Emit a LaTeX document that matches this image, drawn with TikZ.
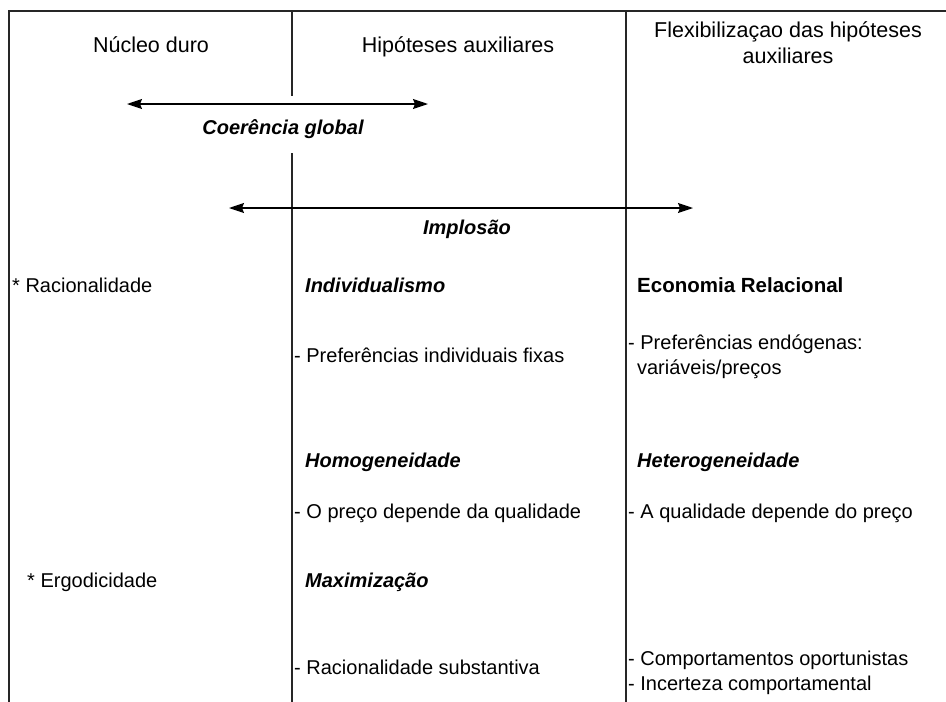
\documentclass[tikz,border=0pt]{standalone}
\usepackage{fontspec}
\setmainfont{Liberation Sans}
\usetikzlibrary{arrows.meta}
\begin{document}
\begin{tikzpicture}[x=1pt,y=-1pt,
  frame/.style={line width=1.2pt,black!85},
  hdr/.style={inner sep=0pt,font=\fontsize{21.5}{26}\selectfont,align=center},
  txt/.style={inner sep=0pt,anchor=base west,font=\fontsize{20}{25}\selectfont,align=left},
  bi/.style={inner sep=0pt,anchor=base west,font=\fontsize{20}{25}\selectfont\bfseries\itshape},
  bd/.style={inner sep=0pt,anchor=base west,font=\fontsize{20.5}{25}\selectfont\bfseries},
  lbl/.style={inner sep=0pt,anchor=base,font=\fontsize{20}{25}\selectfont\bfseries\itshape},
  dbl/.style={line width=1.3pt,{Stealth[length=15pt,width=10pt,inset=2pt]}-{Stealth[length=15pt,width=10pt,inset=2pt]}}]
\useasboundingbox (0,0) rectangle (946,702);
% frame
\coordinate (tl) at (9,11);
\coordinate (tr) at (946,11);
\coordinate (bl) at (9,702);
\coordinate (v1t) at (292,11);
\coordinate (v1a) at (292,96);
\coordinate (v1b) at (292,153);
\coordinate (v1e) at (292,702);
\coordinate (v2t) at (626,11);
\coordinate (v2e) at (626,702);
\draw[frame] (bl) -- (tl) -- (tr);
\draw[frame] (v1t) -- (v1a);
\draw[frame] (v1b) -- (v1e);
\draw[frame] (v2t) -- (v2e);
% headers
\node[hdr,anchor=base] (h1) at (151,52) {Núcleo duro};
\node[hdr,anchor=base] (h2) at (458,52) {Hipóteses auxiliares};
\node[hdr,anchor=base] (h3) at (788,63) {Flexibilizaçao das hipóteses\\auxiliares};
% arrows
\coordinate (c1) at (127,104);
\coordinate (c2) at (428,104);
\draw[dbl] (c1) -- (c2);
\node[lbl] (coer) at (283,134) {Coerência global};
\coordinate (i1) at (229,208);
\coordinate (i2) at (693,208);
\draw[dbl] (i1) -- (i2);
\node[lbl] (impl) at (467,234) {Implosão};
% column 1
\node[txt] (rac) at (12,292) {* Racionalidade};
\node[txt] (erg) at (27,587) {* Ergodicidade};
% column 2
\node[bi] (ind) at (305,292) {Individualismo};
\node[txt] (pif) at (294,362) {- Preferências individuais fixas};
\node[bi] (hom) at (305,467) {Homogeneidade};
\node[txt] (opd) at (294,518) {- O preço depende da qualidade};
\node[bi] (max) at (305,587) {Maximização};
\node[txt] (rsu) at (294,674) {- Racionalidade substantiva};
% column 3
\node[bd] (eco) at (637,292) {Economia Relacional};
\node[txt] (pen) at (628,374) {- Preferências endógenas:\\\ \,variáveis/preços};
\node[bi] (het) at (637,467) {Heterogeneidade};
\node[txt] (aqd) at (628,518) {- A qualidade depende do preço};
\node[txt] (com) at (628,690) {- Comportamentos oportunistas\\- Incerteza comportamental};
\end{tikzpicture}
\end{document}
